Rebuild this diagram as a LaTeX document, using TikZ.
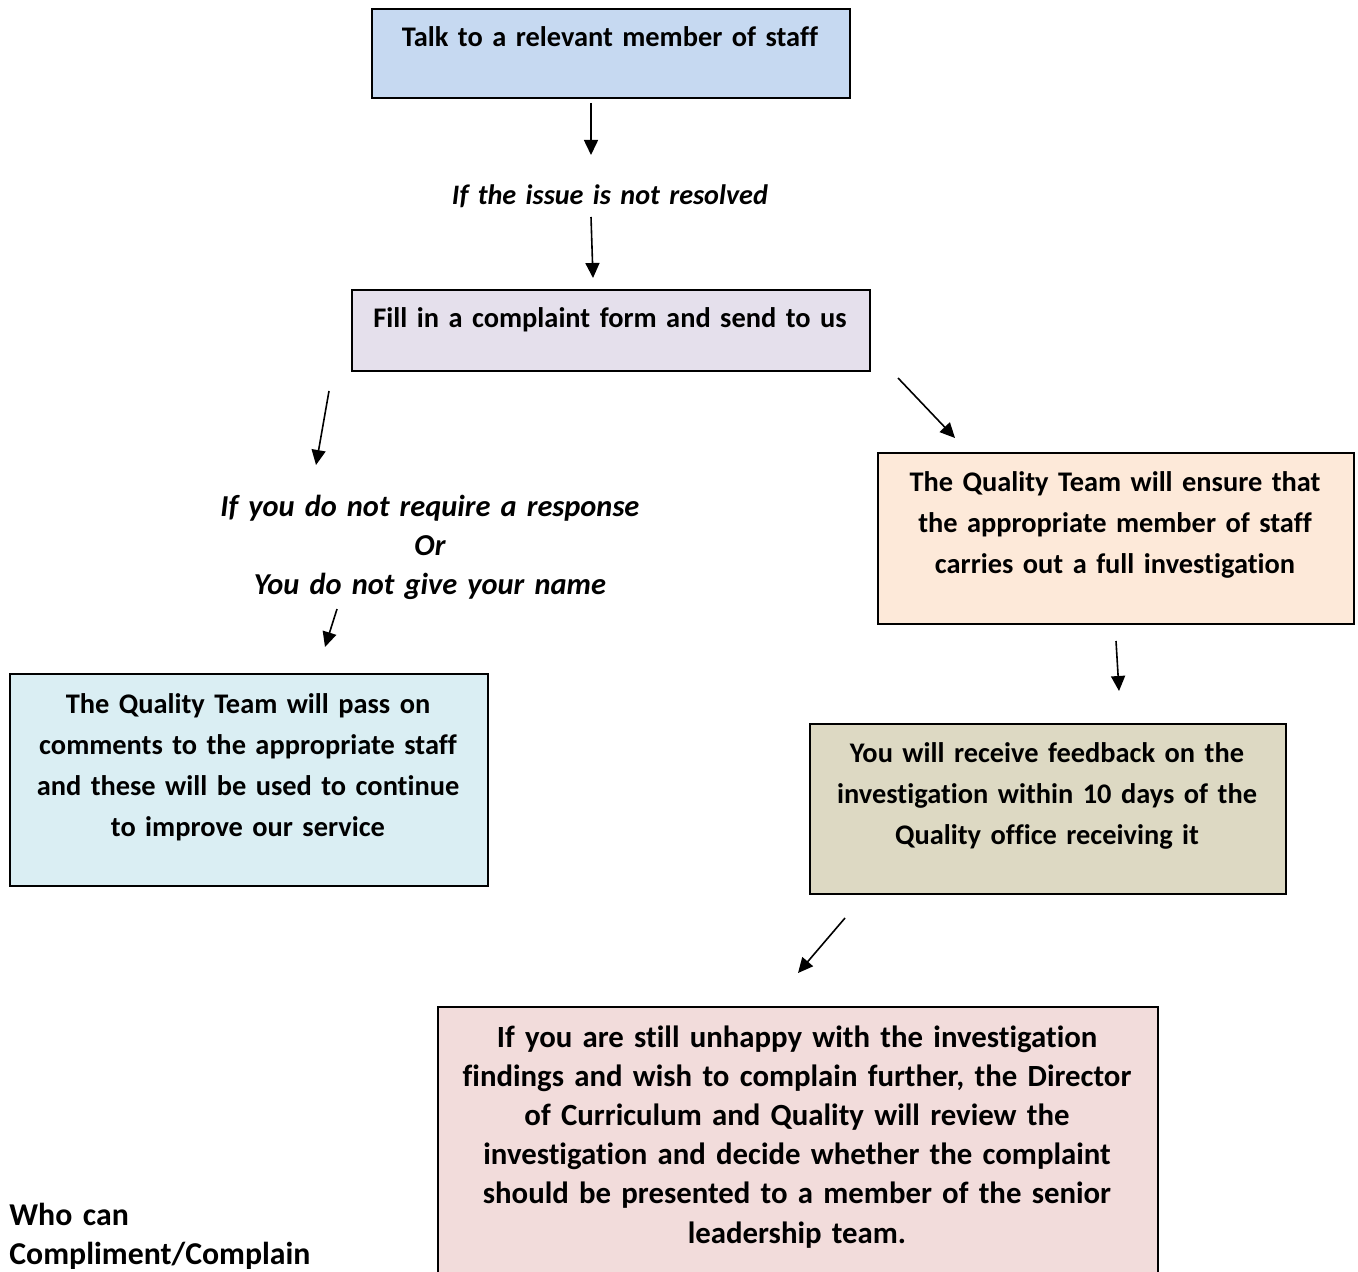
\documentclass[tikz,border=0pt]{standalone}
\usepackage{fontspec}
\setmainfont{Carlito}[RawFeature=-liga]
\usetikzlibrary{arrows.meta}
\definecolor{cBlue}{HTML}{C6D9F1}
\definecolor{cLilac}{HTML}{E5E0EC}
\definecolor{cAqua}{HTML}{DAEEF3}
\definecolor{cPeach}{HTML}{FDE9D9}
\definecolor{cKhaki}{HTML}{DDD9C3}
\definecolor{cRose}{HTML}{F2DCDB}
\tikzset{
  boxshape/.style={draw=black, line width=1pt, rectangle, inner sep=0pt, anchor=north west},
  boxtext/.style={anchor=base, align=center, inner sep=0pt, font=\fontsize{14.2}{20.5}\selectfont\bfseries},
  ittext/.style={anchor=base, align=center, inner sep=0pt, font=\fontsize{15.2}{19.5}\selectfont\bfseries\itshape},
  flowarrow/.style={line width=0.8pt, -{Triangle[length=7.5pt,width=7pt]}},
}
\begin{document}
\begin{tikzpicture}[x=0.5pt,y=-0.5pt]
\useasboundingbox (0,0) rectangle (1358,1272);
% boxes
\node[boxshape, fill=cBlue, minimum width=239pt, minimum height=44.5pt] (b1) at (371,8) {};
\node[boxtext, text width=230pt] (t1) at (610,47) {Talk to a relevant member of staff};
\node[ittext, font=\fontsize{14.1}{19.5}\selectfont\bfseries\itshape, text width=300pt] (l1) at (610,205) {If the issue is not resolved};
\node[boxshape, fill=cLilac, minimum width=259pt, minimum height=40.5pt] (b2) at (351,289) {};
\node[boxtext, text width=250pt] (t2) at (610,328) {Fill in a complaint form and send to us};
\node[ittext, text width=300pt] (l2) at (430,516) {If you do not require a response\\Or\\You do not give your name};
\node[boxshape, fill=cAqua, minimum width=239pt, minimum height=106pt] (b3) at (9,673) {};
\node[boxtext, text width=230pt] (t3) at (248,713) {The Quality Team will pass on\\comments to the appropriate staff\\and these will be used to continue\\to improve our service};
\node[boxshape, fill=cPeach, minimum width=238pt, minimum height=85.5pt] (b4) at (877,452) {};
\node[boxtext, text width=230pt] (t4) at (1115,491) {The Quality Team will ensure that\\the appropriate member of staff\\carries out a full investigation};
\node[boxshape, fill=cKhaki, minimum width=238pt, minimum height=85pt] (b5) at (809,723) {};
\node[boxtext, text width=230pt] (t5) at (1047,762) {You will receive feedback on the\\investigation within 10 days of the\\Quality office receiving it};
\node[boxshape, fill=cRose, minimum width=360pt, minimum height=150pt] (b6) at (437,1006) {};
\node[boxtext, font=\fontsize{15.4}{19.6}\selectfont\bfseries, text width=355pt] (t6) at (797,1047) {If you are still unhappy with the investigation\\findings and wish to complain further, the Director\\of Curriculum and Quality will review the\\investigation and decide whether the complaint\\should be presented to a member of the senior\\leadership team.};
\node[boxtext, anchor=base west, align=left, font=\fontsize{15.9}{19.6}\selectfont\bfseries, text width=200pt] (who) at (9,1225) {Who can\\Compliment/Complain};
% arrow endpoints
\coordinate (a1s) at (591,103); \coordinate (a1e) at (591,155);
\coordinate (a2s) at (591,217); \coordinate (a2e) at (593,278);
\coordinate (a3s) at (329,391); \coordinate (a3e) at (316,465);
\coordinate (a4s) at (898,378); \coordinate (a4e) at (955,438);
\coordinate (a5s) at (337,609); \coordinate (a5e) at (325,647);
\coordinate (a6s) at (1116,641); \coordinate (a6e) at (1119,691);
\coordinate (a7s) at (845,918); \coordinate (a7e) at (798,973);
\draw[flowarrow] (a1s) -- (a1e);
\draw[flowarrow] (a2s) -- (a2e);
\draw[flowarrow] (a3s) -- (a3e);
\draw[flowarrow] (a4s) -- (a4e);
\draw[flowarrow] (a5s) -- (a5e);
\draw[flowarrow] (a6s) -- (a6e);
\draw[flowarrow] (a7s) -- (a7e);
\end{tikzpicture}
\end{document}
